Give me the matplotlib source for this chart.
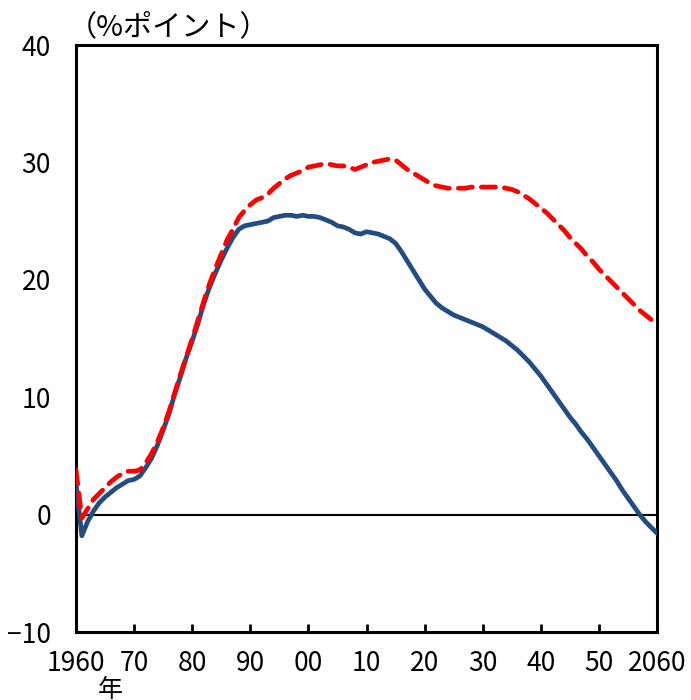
import matplotlib
matplotlib.use("Agg")
import matplotlib.pyplot as plt
import numpy as np

plt.rcParams['font.family'] = ['Noto Sans CJK JP', 'DejaVu Sans']

years = list(range(1960, 2061))

# 実線（紺）
series_a = [
    2.7, -1.8, -0.6, 0.3, 1.0, 1.5, 1.9, 2.3, 2.6, 2.9,          # 1960-69
    3.0, 3.3, 4.0, 4.8, 5.9, 7.2, 8.6, 10.3, 11.8, 13.4,         # 1970-79
    14.8, 16.3, 18.0, 19.4, 20.6, 21.7, 22.7, 23.6, 24.3, 24.6,  # 1980-89
    24.7, 24.8, 24.9, 25.0, 25.3, 25.4, 25.5, 25.5, 25.4, 25.5,  # 1990-99
    25.4, 25.4, 25.3, 25.1, 24.9, 24.6, 24.5, 24.3, 24.0, 23.9,  # 2000-09
    24.1, 24.0, 23.9, 23.7, 23.5, 23.1, 22.4, 21.6, 20.8, 20.0,  # 2010-19
    19.2, 18.6, 18.0, 17.6, 17.3, 17.0, 16.8, 16.6, 16.4, 16.2,  # 2020-29
    16.0, 15.7, 15.4, 15.1, 14.8, 14.4, 14.0, 13.5, 13.0, 12.4,  # 2030-39
    11.8, 11.1, 10.4, 9.7, 9.0, 8.3, 7.7, 7.0, 6.4, 5.7,         # 2040-49
    5.0, 4.3, 3.6, 2.9, 2.1, 1.4, 0.7, 0.0, -0.6, -1.1,          # 2050-59
    -1.6,                                                        # 2060
]

# 破線（赤）
series_b = [
    3.8, -0.3, 0.5, 1.3, 1.8, 2.3, 2.8, 3.2, 3.5, 3.7,           # 1960-69
    3.7, 3.8, 4.4, 5.2, 6.2, 7.4, 8.8, 10.4, 12.0, 13.5,         # 1970-79
    15.0, 16.6, 18.2, 19.7, 21.0, 22.2, 23.4, 24.3, 25.3, 25.9,  # 1980-89
    26.4, 26.8, 27.0, 27.3, 27.8, 28.2, 28.6, 28.9, 29.1, 29.3,  # 1990-99
    29.6, 29.7, 29.8, 29.9, 29.8, 29.7, 29.7, 29.6, 29.4, 29.6,  # 2000-09
    29.8, 30.0, 30.1, 30.2, 30.3, 30.2, 29.8, 29.4, 29.1, 28.8,  # 2010-19
    28.5, 28.2, 28.0, 27.9, 27.8, 27.8, 27.8, 27.8, 27.9, 27.9,  # 2020-29
    27.9, 27.9, 27.9, 27.9, 27.8, 27.7, 27.5, 27.2, 26.9, 26.5,  # 2030-39
    26.1, 25.7, 25.2, 24.7, 24.2, 23.6, 23.1, 22.6, 22.0, 21.5,  # 2040-49
    20.9, 20.4, 19.9, 19.4, 18.9, 18.4, 17.9, 17.4, 17.0, 16.6,  # 2050-59
    16.2,                                                        # 2060
]

x_ticks = [1960, 1970, 1980, 1990, 2000, 2010, 2020, 2030, 2040, 2050, 2060]
x_tick_labels = ["1960", "70", "80", "90", "00", "10", "20", "30", "40", "50", "2060"]
y_ticks = [-10, 0, 10, 20, 30, 40]
y_tick_labels = ["\u221210", "0", "10", "20", "30", "40"]

fig = plt.figure(figsize=(6.91, 7.00), dpi=100)
ax = fig.add_axes([0.110, 0.0971, 0.841, 0.8386])

ax.axhline(0, color="black", linewidth=1.5, zorder=1)
ax.plot(years, series_a, color="#234C80", linewidth=3.4,
        solid_capstyle="round", solid_joinstyle="round", zorder=3)
ax.plot(years, series_b, color="#FF0000", linewidth=3.4,
        linestyle=(0, (3.0, 1.9)), dash_capstyle="round", zorder=4)

ax.set_xlim(1960, 2060)
ax.set_ylim(-10, 40)

ax.set_xticks(x_ticks)
ax.set_xticklabels(x_tick_labels)
ax.set_yticks(y_ticks)
ax.set_yticklabels(y_tick_labels)

ax.tick_params(axis="x", direction="in", length=6, width=2, pad=13,
               labelsize=19, colors="black")
ax.tick_params(axis="y", length=0, pad=18, labelsize=19)

for side in ("left", "right", "top", "bottom"):
    ax.spines[side].set_linewidth(2.2)
    ax.spines[side].set_color("black")

fig.text(0.098, 0.961, "（%ポイント）", fontsize=21, ha="left", va="center")
fig.text(0.159, 0.033, "年", fontsize=18, ha="center", va="top")

fig.savefig("out.png", dpi=100)
